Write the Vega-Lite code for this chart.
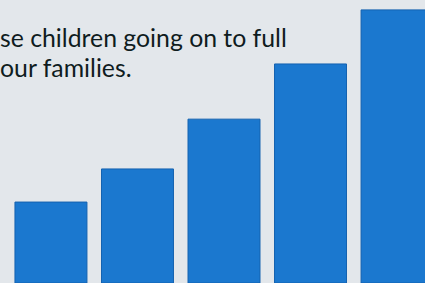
{
  "$schema": "https://vega.github.io/schema/vega-lite/v6.json",
  "width": 425,
  "height": 283,
  "autosize": "none",
  "padding": 0,
  "background": "#e3e7eb",
  "config": {"view": {"stroke": null}},
  "title": {
    "text": ["se children going on to full", "our families."],
    "anchor": "start",
    "orient": "top",
    "frame": "group",
    "offset": 0,
    "dy": 102,
    "baseline": "alphabetic",
    "font": "Lato",
    "fontSize": 24.8,
    "fontWeight": "normal",
    "lineHeight": 30,
    "color": "#0f1c1e"
  },
  "data": {
    "values": [
      {"group": "A", "value": 28.6},
      {"group": "B", "value": 40.3},
      {"group": "C", "value": 57.9},
      {"group": "D", "value": 77.4},
      {"group": "E", "value": 96.5}
    ]
  },
  "mark": {"type": "bar", "color": "#1b78cf", "stroke": "#1462b0", "strokeWidth": 1},
  "encoding": {
    "x": {
      "field": "group",
      "type": "nominal",
      "axis": null,
      "scale": {"range": [0, 448], "paddingInner": 0.168, "paddingOuter": 0.173}
    },
    "y": {
      "field": "value",
      "type": "quantitative",
      "axis": null,
      "scale": {"domain": [0, 100]}
    }
  }
}
